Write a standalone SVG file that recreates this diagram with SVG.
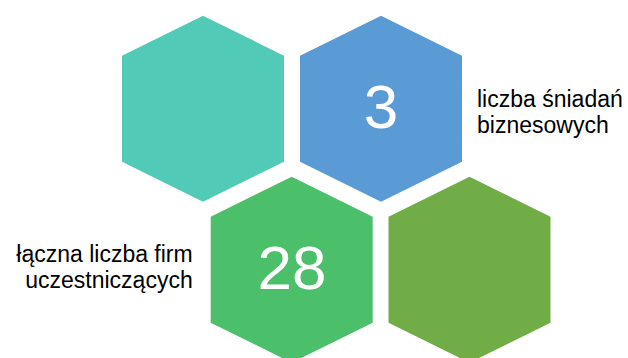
<svg xmlns="http://www.w3.org/2000/svg" xmlns:xlink="http://www.w3.org/1999/xlink" width="628" height="358" viewBox="0 0 628 358">
  <style>
    .num { font-family: "Liberation Sans", Arial, sans-serif; font-size: 62px; fill: #ffffff; text-anchor: middle; }
    .lbl { font-family: "Liberation Sans", Arial, sans-serif; font-size: 23px; fill: #000000; }
    .end { text-anchor: end; }
  </style>
  <defs>
    <polygon id="hex" points="0,-93 81,-53 81,53 0,93 -81,53 -81,-53"/>
  </defs>
  <rect width="628" height="358" fill="#ffffff"/>
  <g id="connectors"/>
  <g id="hex-teal">
    <use href="#hex" xlink:href="#hex" x="203" y="108.7" fill="#52CAB8"/>
  </g>
  <g id="hex-blue">
    <use href="#hex" xlink:href="#hex" x="381" y="108.7" fill="#5B9BD5"/>
    <text class="num" x="381" y="128">3</text>
  </g>
  <g id="hex-green">
    <use href="#hex" xlink:href="#hex" x="291.7" y="269.7" fill="#4BBF6A"/>
    <text class="num" x="292" y="289">28</text>
  </g>
  <g id="hex-olive">
    <use href="#hex" xlink:href="#hex" x="469.5" y="269.7" fill="#70AD47"/>
  </g>
  <g id="label-right">
    <text class="lbl" x="477" y="106.5">liczba śniadań</text>
    <text class="lbl" x="477" y="132.7">biznesowych</text>
  </g>
  <g id="label-left">
    <text class="lbl end" x="192.7" y="262.3">łączna liczba firm</text>
    <text class="lbl end" x="192.7" y="288.3">uczestniczących</text>
  </g>
</svg>
